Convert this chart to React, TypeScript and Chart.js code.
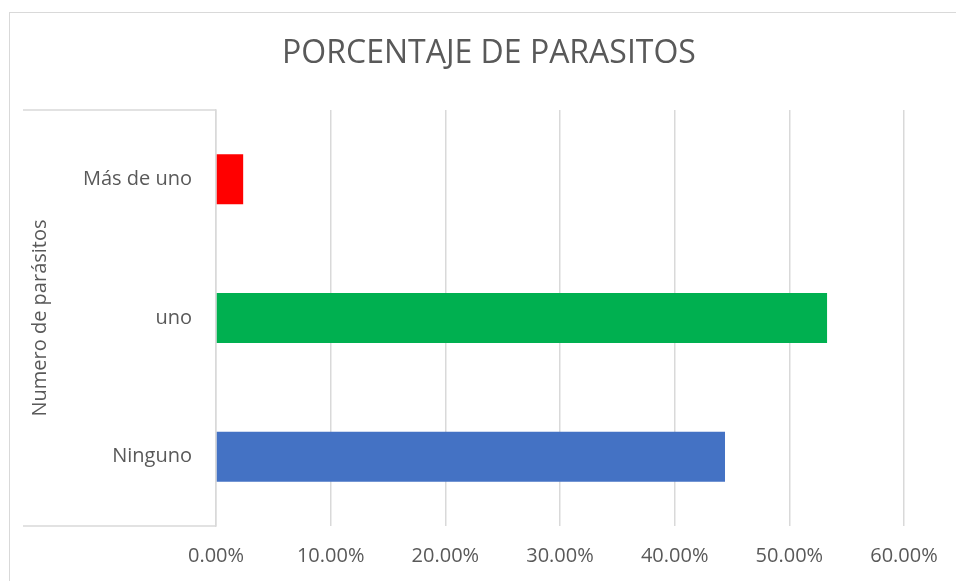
import React, { useEffect, useRef } from "react";
import { Chart, registerables } from "chart.js";

Chart.register(...registerables);

const categories = ["Más de uno", "uno", "Ninguno"];
const values = [2.37, 53.29, 44.39];
const barColors = ["#FF0000", "#00B050", "#4472C4"];
const xMin = 0;
const xMax = 60;
const xStep = 10;
const titleText = "PORCENTAJE DE PARASITOS";
const yTitle = "Numero de parásitos";

const TEXT = "#595959";
const GRID = "#D9D9D9";
const FONT = "'Open Sans', 'DejaVu Sans', sans-serif";

const bracketPlugin = {
  id: "bracket",
  afterDraw(chart: any) {
    const { ctx, chartArea } = chart;
    ctx.save();
    ctx.strokeStyle = GRID;
    ctx.lineWidth = 1.5;
    ctx.beginPath();
    ctx.moveTo(23, chartArea.top);
    ctx.lineTo(chartArea.left, chartArea.top);
    ctx.moveTo(23, chartArea.bottom);
    ctx.lineTo(chartArea.left, chartArea.bottom);
    ctx.stroke();
    ctx.restore();
  },
};

export default function App() {
  const ref = useRef<HTMLCanvasElement | null>(null);

  useEffect(() => {
    if (!ref.current) return;
    const chart = new Chart(ref.current, {
      type: "bar",
      data: {
        labels: categories,
        datasets: [
          {
            data: values,
            backgroundColor: barColors,
            borderWidth: 0,
            barPercentage: 0.36,
            categoryPercentage: 1,
          },
        ],
      },
      options: {
        indexAxis: "y",
        animation: false,
        responsive: false,
        layout: { padding: { left: 22, right: 0, top: 0, bottom: 0 } },
        plugins: {
          legend: { display: false },
          tooltip: { enabled: false },
          title: {
            display: true,
            text: titleText,
            color: TEXT,
            font: { family: FONT, size: 32, weight: "normal", lineHeight: 1.2 },
            padding: { top: 35, bottom: 36.6 },
          },
        },
        scales: {
          x: {
            min: xMin,
            max: xMax,
            ticks: {
              stepSize: xStep,
              color: TEXT,
              font: { family: FONT, size: 20 },
              padding: 18,
              callback: (v: any) => Number(v).toFixed(2) + "%",
            },
            grid: { color: GRID, lineWidth: 1.5, drawTicks: false },
            border: { display: false },
            afterFit: (s: any) => {
              s.height = 55;
            },
          },
          y: {
            ticks: {
              color: TEXT,
              font: { family: FONT, size: 20 },
              padding: 24,
            },
            grid: { display: false, drawTicks: false },
            border: { display: true, color: GRID, width: 1.5 },
            title: {
              display: true,
              text: yTitle,
              color: TEXT,
              font: { family: FONT, size: 20, lineHeight: 1.2 },
              padding: { top: 6, bottom: 0 },
            },
            afterFit: (s: any) => {
              s.width = 194;
            },
          },
          yRight: {
            type: "linear",
            position: "right",
            display: true,
            ticks: { display: false },
            grid: { display: false, drawTicks: false },
            border: { display: false },
            afterFit: (s: any) => {
              s.width = 52;
            },
          },
        },
      },
      plugins: [bracketPlugin],
    });
    return () => chart.destroy();
  }, []);

  return (
    <div style={{ position: "fixed", left: 0, top: 0, width: 956, height: 581, background: "#fff", overflow: "hidden" }}>
      <div
        style={{
          position: "absolute",
          left: 9,
          top: 12,
          width: 1000,
          height: 1000,
          border: "1.5px solid #D9D9D9",
          boxSizing: "border-box",
        }}
      />
      <canvas ref={ref} width={956} height={581} style={{ position: "absolute", left: 0, top: 0 }} />
    </div>
  );
}
